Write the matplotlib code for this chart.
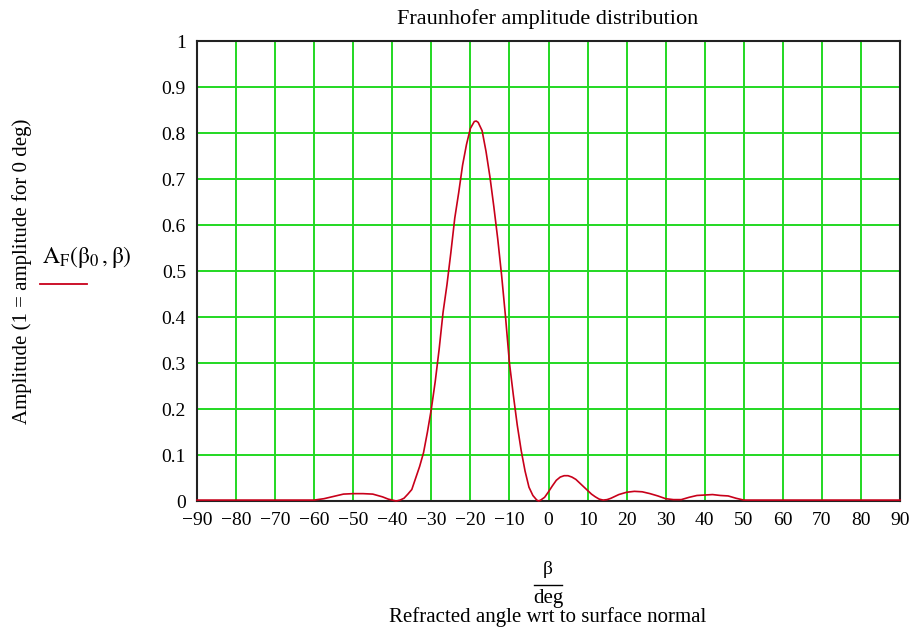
import matplotlib
matplotlib.use("Agg")
import matplotlib.pyplot as plt
from matplotlib.lines import Line2D

# angle beta (deg) and amplitude
beta = [-90, -80, -70, -62, -60, -57.5, -55, -52.5, -50, -47.5, -45, -42.5, -41,
        -40, -39, -38, -37, -36, -35, -34, -33, -32, -31, -30, -29, -28, -27, -26,
        -25, -24, -23, -22, -21, -20, -19, -18.5, -18, -17, -16, -15, -14, -13,
        -12, -11, -10, -9, -8, -7, -6, -5, -4, -3, -2.5, -2, -1, 0, 1, 2, 3, 4,
        5, 6, 7, 8, 9, 10, 11, 12, 13, 14, 15, 16, 17, 18, 20, 22, 24, 25, 26,
        28, 30, 32, 34, 36, 38, 40, 42, 44, 46, 48, 50, 60, 70, 80, 90]
amp = [0.002, 0.002, 0.002, 0.002, 0.002, 0.005, 0.010, 0.015, 0.016, 0.016, 0.015,
       0.009, 0.004,
       0.002, 0.0, 0.002, 0.006, 0.015, 0.025, 0.05, 0.075, 0.105, 0.15, 0.20, 0.26,
       0.33, 0.41, 0.47,
       0.54, 0.615, 0.67, 0.73, 0.775, 0.81, 0.825, 0.826, 0.823, 0.805, 0.76, 0.705,
       0.64, 0.57,
       0.49, 0.40, 0.30, 0.23, 0.165, 0.11, 0.065, 0.03, 0.012, 0.002, 0.0, 0.002,
       0.008, 0.02, 0.033, 0.045, 0.052, 0.055,
       0.055, 0.052, 0.047, 0.039, 0.031, 0.023, 0.015, 0.009, 0.004, 0.002, 0.003,
       0.006, 0.01, 0.014, 0.019, 0.021, 0.02, 0.018, 0.016,
       0.011, 0.005, 0.003, 0.003, 0.008, 0.012, 0.013, 0.014, 0.012, 0.011, 0.006,
       0.002, 0.002, 0.002, 0.002, 0.002]

xticks = list(range(-90, 91, 10))
yticks = [i / 10 for i in range(11)]
ytick_labels = ["0"] + [f"{v:.1f}" for v in yticks[1:-1]] + ["1"]

plt.rcParams["font.family"] = ["Liberation Serif", "DejaVu Serif"]
plt.rcParams["mathtext.fontset"] = "stix"

W, H = 917, 637
def fx(x):
    return x / W
def fy(y):
    return 1 - y / H

fig = plt.figure(figsize=(W / 100, H / 100), dpi=100)
ax = fig.add_axes([fx(197), fy(501), 703 / W, 460 / H])

ax.plot(beta, amp, color="#c8001a", lw=1.2, zorder=3, clip_on=False)
ax.set_xlim(-90, 90)
ax.set_ylim(0, 1)
ax.set_xticks(xticks)
ax.set_yticks(yticks)
ax.set_yticklabels(ytick_labels)
ax.grid(True, color="#22d822", lw=1.4)
ax.set_axisbelow(True)
ax.tick_params(length=0, labelsize=14, pad=8)
for sp in ax.spines.values():
    sp.set_color("#222222")
    sp.set_linewidth(1.5)

fig.text(fx(548), fy(19), "Fraunhofer amplitude distribution", ha="center",
         va="center", fontsize=16)

fig.text(fx(22), fy(271), "Amplitude (1 = amplitude for 0 deg)", rotation=90,
         ha="center", va="center", fontsize=15)
fig.text(fx(42), fy(257), r"$\mathrm{A}_{\mathrm{F}}\left(\mathrm{β}_{0}\,,\mathrm{β}\right)$",
         ha="left", va="center", fontsize=17)
fig.add_artist(Line2D([fx(40), fx(87)], [fy(284), fy(284)], color="#c8001a", lw=1.3))

fig.text(fx(548), fy(570), "β", ha="center", va="center", fontsize=14)
fig.add_artist(Line2D([fx(534), fx(562)], [fy(585), fy(585)], color="black", lw=1.0))
fig.text(fx(548), fy(598), "deg", ha="center", va="center", fontsize=15)
fig.text(fx(548), fy(617), "Refracted angle wrt to surface normal", ha="center",
         va="center", fontsize=15)

fig.savefig("out.png", dpi=100)
